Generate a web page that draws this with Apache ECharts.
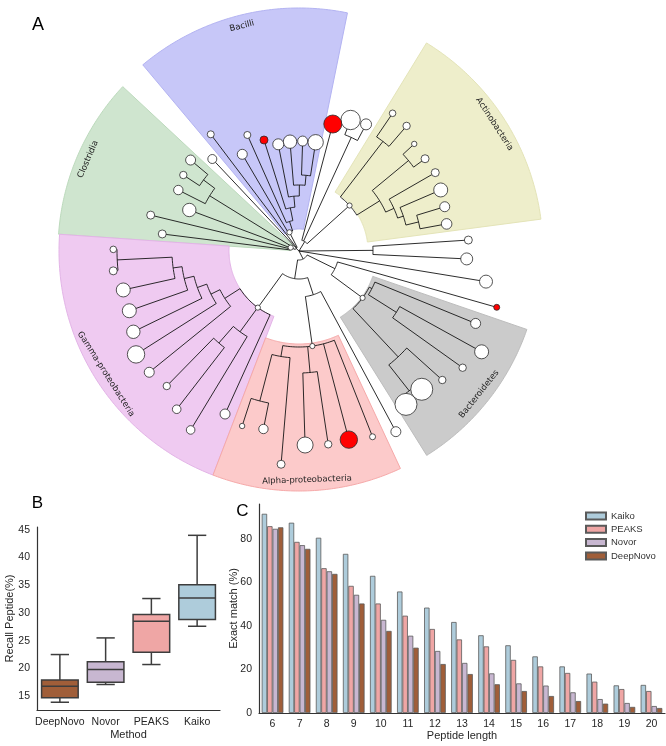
<!DOCTYPE html>
<html><head><meta charset="utf-8">
<script src="https://cdn.jsdelivr.net/npm/echarts@6/dist/echarts.min.js"></script>
<style>html,body{margin:0;padding:0;background:#fff}#c{width:666px;height:746px}</style>
</head><body><div id="c"></div>
<script>
// ================= Panel A : phylogenetic tree =================
const cladeNames  = ['Bacilli', 'Actinobacteria', 'Clostridia', 'Gamma-proteobacteria', 'Alpha-proteobacteria', 'Bacteroidetes'];
const cladeStart  = [78.5, 7.5, 137, 176, 249, 302];
const cladeEnd    = [130, 58.5, 176, 249, 295, 341];
const cladeInner  = [22, 69, 8, 70, 93, 78];
const cladeOuter  = [243, 244, 241, 240, 240, 241];
const cladeFill   = ['#c7c7f8', '#eeeecb', '#cfe5cf', '#efcaf1', '#fccaca', '#cbcbcb'];
const cladeStroke = ['#b3b3f2', '#e4e4b8', '#bcdabc', '#e3b4e7', '#f6a9a9', '#bdbdbd'];

// internal nodes: [id, parent, radius, fixed angle or null]
const treeNodes = [
  ['root', '', 0, null],
  ['UL', 'root', 4, null],
  ['CLO', 'UL', 9, 157.6],
  ['C123', 'CLO', 105, null],
  ['C12', 'C123', 119, null],
  ['BAC', 'UL', 21, 117],
  ['B2', 'BAC', 31, null],
  ['B3', 'B2', 44, null],
  ['B4', 'B3', 55, null],
  ['B5', 'B4', 66, null],
  ['B6', 'B5', 76, null],
  ['LOW', 'root', 9, null],
  ['GP', 'LOW', 28, null],
  ['GAM', 'GP', 70, 234],
  ['U7', 'GAM', 88, null],
  ['U6', 'U7', 98, null],
  ['U5', 'U6', 108, null],
  ['U4', 'U5', 118, null],
  ['U3', 'U4', 127, null],
  ['G12', 'U3', 182, null],
  ['G6', 'GAM', 100, null],
  ['G89', 'G6', 122, null],
  ['AZ', 'GP', 46, null],
  ['ALP', 'AZ', 96, 278],
  ['AL1', 'ALP', 107, null],
  ['A12', 'AL1', 155, null],
  ['A45', 'ALP', 122, null],
  ['XB', 'LOW', 40, null],
  ['BACT', 'XB', 79, 323.6],
  ['BT1', 'BACT', 82, null],
  ['BT23', 'BT1', 115, null],
  ['BT456', 'BACT', 145, null],
  ['BT56', 'BT456', 178, null],
  ['UV', 'root', 74, null],
  ['UR', 'root', 11, null],
  ['ACT', 'UR', 68, 402],
  ['A1', 'ACT', 138, null],
  ['A2', 'ACT', 95, null],
  ['AOP', 'A2', 142, null],
  ['A3', 'A2', 104, null],
  ['A4', 'A3', 110, null],
  ['AST', 'A4', 123, null],
  ['KL', 'UR', 125, null]
];
// markers drawn on clade roots
const markedNodes = ['BAC', 'CLO', 'ACT', 'GAM', 'ALP', 'BACT'];

// leaves: [parent, angle, radius, circle size, red]
const treeLeaves = [
  ['B6', 81.3, 110, 7.7, 0], ['B6', 88.1, 110, 5, 0], ['B5', 94.7, 109.7, 6.7, 0],
  ['B4', 101, 108.7, 5.5, 0], ['B3', 107.5, 116.4, 4, 1], ['B2', 114, 127, 3.5, 0],
  ['BAC', 120.4, 112.1, 5, 0], ['UL', 127.1, 146.3, 3.5, 0], ['UL', 133.3, 126.4, 4.5, 0],
  ['C12', 140, 141.5, 5, 0], ['C12', 146.7, 138.4, 3.7, 0], ['C123', 153.2, 135.2, 4.7, 0],
  ['CLO', 159.5, 117.1, 6.7, 0], ['CLO', 166.4, 152.6, 4, 0], ['CLO', 172.9, 137.8, 4, 0],
  ['G12', 179.5, 185.7, 3.3, 0], ['G12', 186.1, 186.8, 4, 0], ['U3', 192.5, 180, 7, 0],
  ['U4', 199.4, 179.9, 7, 0], ['U5', 206, 184.3, 6.7, 0], ['U6', 212.4, 193, 8.7, 0],
  ['U7', 219, 192.7, 5, 0], ['G89', 225.6, 189, 3.7, 0], ['G89', 232.3, 200, 4.3, 0],
  ['G6', 238.8, 209.2, 4.3, 0], ['GAM', 245.6, 179, 5, 0],
  ['A12', 252, 184, 2.7, 0], ['A12', 258.7, 181.5, 4.7, 0], ['AL1', 265.2, 214, 4, 0],
  ['A45', 271.8, 194.1, 8, 0], ['A45', 278.6, 195.5, 3.7, 0], ['ALP', 284.8, 195.1, 8.7, 1],
  ['ALP', 291.6, 199.8, 3, 0], ['AZ', 298.2, 205, 5, 0],
  ['BT56', 304.9, 187, 11, 0], ['BT56', 311.6, 184.9, 11, 0], ['BT456', 318, 192.8, 3.7, 0],
  ['BT23', 324.5, 201, 3.7, 0], ['BT23', 331.1, 208.6, 7, 0], ['BT1', 337.7, 190.9, 5, 0],
  ['XB', 344.1, 205.6, 3, 1], ['root', 350.7, 189.5, 6.5, 0], ['UV', 357.3, 167.9, 6, 0],
  ['UV', 363.7, 169.7, 4, 0],
  ['AST', 370.4, 150.1, 5.3, 0], ['AST', 376.9, 152.3, 5, 0], ['A4', 383.3, 154.3, 7, 0],
  ['A3', 389.9, 157.2, 4, 0], ['AOP', 396.2, 156.2, 4, 0], ['AOP', 402.9, 157.3, 2.7, 0],
  ['A1', 409.3, 165, 3.7, 0], ['A1', 415.8, 166.5, 3.3, 0],
  ['KL', 422.1, 143.3, 5.5, 0], ['KL', 428.5, 140.8, 9.7, 0], ['UR', 435.1, 131.4, 9, 1]
];

// ================= Panel B : box plot =================
const methodsB   = ['DeepNovo', 'Novor', 'PEAKS', 'Kaiko'];
const boxLow     = [13.9, 17.1, 20.7, 27.6];
const boxQ1      = [14.7, 17.5, 22.9, 28.8];
const boxMedian  = [16.8, 19.8, 28.5, 32.7];
const boxQ3      = [17.9, 21.2, 29.7, 35.1];
const boxHigh    = [22.5, 25.5, 32.6, 44.0];
const methodColors = ['#a05e39', '#c8b7d1', '#efa6a5', '#aeccdb'];

// ================= Panel C : bars =================
const peptideLengths = ['6','7','8','9','10','11','12','13','14','15','16','17','18','19','20'];
const kaiko    = [91.5, 87.4, 80.5, 73.1, 63.0, 55.8, 48.4, 41.8, 35.7, 31.1, 26.0, 21.4, 18.1, 12.7, 12.9];
const peaks    = [85.8, 78.6, 66.5, 58.4, 50.3, 44.7, 38.6, 33.8, 30.6, 24.4, 21.4, 18.4, 14.4, 11.0, 10.1];
const novor    = [84.6, 77.1, 65.1, 54.3, 42.8, 35.5, 28.5, 23.0, 18.2, 13.6, 12.6, 9.5, 6.4, 4.6, 3.2];
const deepnovo = [85.3, 75.4, 63.9, 50.3, 37.7, 30.0, 22.5, 17.9, 13.2, 10.1, 7.8, 5.5, 4.3, 2.8, 2.3];
const barSeriesNames = ['Kaiko', 'PEAKS', 'Novor', 'DeepNovo'];
const barColors = ['#aeccdb', '#efa6a5', '#c8b7d1', '#a05e39'];

// ---------- build tree geometry (data values only) ----------
const nodeMap = {};
treeNodes.forEach(([id, parent, r, ang]) => { nodeMap[id] = { id, parent, r, ang, children: [] }; });
treeNodes.forEach(([id, parent]) => { if (parent) nodeMap[parent].children.push(nodeMap[id]); });
const leafObjs = treeLeaves.map(([parent, ang, r, size, red]) => {
  const o = { parent, r, ang, size, red, children: [] };
  nodeMap[parent].children.push(o);
  return o;
});
function layout(n) {
  const as = n.children.map(layout);
  if (n.ang == null) n.ang = (Math.min(...as) + Math.max(...as)) / 2;
  return n.ang;
}
layout(nodeMap.root);
const edgeData = [];
Object.values(nodeMap).concat(leafObjs).forEach(n => {
  if (n.parent) edgeData.push([nodeMap[n.parent].r, n.r, n.ang, n.ang]);
  if (n.children.length > 1 && n.r > 0) {
    const as = n.children.map(c => c.ang).concat([n.ang]);
    edgeData.push([n.r, n.r, Math.min(...as), Math.max(...as)]);
  }
});
const circleData = markedNodes.map(id => [nodeMap[id].r, nodeMap[id].ang, 2.6, 0])
  .concat(leafObjs.map(l => [l.r, l.ang, l.size, l.red]));
const sectorData = cladeNames.map((n, i) => [cladeInner[i], cladeOuter[i], cladeStart[i], cladeEnd[i], i]);
const labelData = cladeNames.map((n, i) => [cladeOuter[i] - 11, (cladeStart[i] + cladeEnd[i]) / 2, i]);

function renderSector(params, api) {
  const r0 = api.value(0), r1 = api.value(1), a0 = api.value(2), a1 = api.value(3), idx = api.value(4);
  const pts = [], n = 80;
  for (let k = 0; k <= n; k++) pts.push(api.coord([r1, a0 + (a1 - a0) * k / n]));
  for (let k = n; k >= 0; k--) pts.push(api.coord([r0, a0 + (a1 - a0) * k / n]));
  return { type: 'polygon', shape: { points: pts }, style: { fill: cladeFill[idx], stroke: cladeStroke[idx], lineWidth: 1 } };
}
function renderEdge(params, api) {
  const r0 = api.value(0), r1 = api.value(1), a0 = api.value(2), a1 = api.value(3);
  const pts = [];
  if (a0 === a1) { pts.push(api.coord([r0, a0]), api.coord([r1, a1])); }
  else {
    const n = Math.max(2, Math.ceil((a1 - a0) / 1.5));
    for (let k = 0; k <= n; k++) pts.push(api.coord([r0, a0 + (a1 - a0) * k / n]));
  }
  return { type: 'polyline', shape: { points: pts }, style: { stroke: '#151515', lineWidth: 0.9, fill: null } };
}
function renderCircle(params, api) {
  const p = api.coord([api.value(0), api.value(1)]);
  return { type: 'circle', shape: { cx: p[0], cy: p[1], r: api.value(2) },
    style: { fill: api.value(3) ? '#ff0000' : '#ffffff', stroke: '#2a2a2a', lineWidth: 0.8 } };
}
function renderLabel(params, api) {
  const a = api.value(1), idx = api.value(2);
  const p = api.coord([api.value(0), a]);
  const aa = ((a % 360) + 360) % 360;
  const rot = aa < 180 ? aa - 90 : aa + 90;
  return { type: 'text', x: p[0], y: p[1], rotation: rot * Math.PI / 180,
    style: { text: cladeNames[idx], align: 'center', verticalAlign: 'middle', textAlign: 'center', textVerticalAlign: 'middle',
      font: '8.5px "DejaVu Sans"', fill: '#222' } };
}
function renderBox(params, api) {
  const i = api.value(0);
  const pLo = api.coord([i, api.value(1)]), pQ1 = api.coord([i, api.value(2)]), pMed = api.coord([i, api.value(3)]);
  const pQ3 = api.coord([i, api.value(4)]), pHi = api.coord([i, api.value(5)]);
  const bw = api.size([1, 0])[0] * 0.8, cx = pLo[0];
  const ls = { stroke: '#3d3d3d', lineWidth: 1.5 };
  return { type: 'group', children: [
    { type: 'line', shape: { x1: cx, y1: pLo[1], x2: cx, y2: pQ1[1] }, style: ls },
    { type: 'line', shape: { x1: cx, y1: pQ3[1], x2: cx, y2: pHi[1] }, style: ls },
    { type: 'line', shape: { x1: cx - bw / 4, y1: pLo[1], x2: cx + bw / 4, y2: pLo[1] }, style: ls },
    { type: 'line', shape: { x1: cx - bw / 4, y1: pHi[1], x2: cx + bw / 4, y2: pHi[1] }, style: ls },
    { type: 'rect', shape: { x: cx - bw / 2, y: pQ3[1], width: bw, height: pQ1[1] - pQ3[1] },
      style: { fill: methodColors[params.dataIndex], stroke: '#3d3d3d', lineWidth: 1.5 } },
    { type: 'line', shape: { x1: cx - bw / 2, y1: pMed[1], x2: cx + bw / 2, y2: pMed[1] }, style: ls }
  ] };
}

const FONT = '"Liberation Sans", Arial, sans-serif';
const axisText = { color: '#262626', fontSize: 10.5, fontFamily: FONT };
const nameText = { color: '#262626', fontSize: 11, fontFamily: FONT };
const spine = { show: true, lineStyle: { color: '#333', width: 1.2 } };

const chart = echarts.init(document.getElementById('c'), null, { renderer: 'canvas' });
chart.setOption({
  animation: false,
  backgroundColor: '#fff',
  polar: { center: [299, 251], radius: 250 },
  angleAxis: { type: 'value', min: 0, max: 360, startAngle: 0, clockwise: false, show: false },
  radiusAxis: { type: 'value', min: 0, max: 250, show: false },
  grid: [
    { left: 37, top: 527, width: 183, height: 183 },
    { left: 259, top: 504, width: 406, height: 209 }
  ],
  xAxis: [
    { type: 'category', gridIndex: 0, data: methodsB, axisLine: spine, axisTick: { show: false },
      axisLabel: Object.assign({ margin: 7, interval: 0 }, axisText),
      name: 'Method', nameLocation: 'middle', nameGap: 19, nameTextStyle: nameText },
    { type: 'category', gridIndex: 1, data: peptideLengths, axisLine: spine, axisTick: { show: false },
      axisLabel: Object.assign({ margin: 6, interval: 0 }, axisText),
      name: 'Peptide length', nameLocation: 'middle', nameGap: 17, nameTextStyle: nameText }
  ],
  yAxis: [
    { type: 'value', gridIndex: 0, min: 12.5, max: 45.5, splitNumber: 6, axisLine: spine, axisTick: { show: false },
      splitLine: { show: false }, axisLabel: Object.assign({ margin: 7, showMinLabel: false, showMaxLabel: false }, axisText),
      name: 'Recall Peptide(%)', nameLocation: 'middle', nameGap: 21.5, nameMoveOverlap: false, nameTextStyle: nameText },
    { type: 'value', gridIndex: 1, min: 0, max: 96, splitNumber: 5, axisLine: spine, axisTick: { show: false },
      splitLine: { show: false }, axisLabel: Object.assign({ margin: 7, showMaxLabel: false }, axisText),
      name: 'Exact match (%)', nameLocation: 'middle', nameGap: 20, nameMoveOverlap: false, nameTextStyle: nameText }
  ],
  legend: {
    data: barSeriesNames, orient: 'vertical', left: 585, top: 511, padding: 0, itemWidth: 20, itemHeight: 7, itemGap: 3.3,
    icon: 'rect', textStyle: { color: '#333', fontSize: 9.5, fontFamily: FONT }
  },
  graphic: [
    { type: 'text', x: 38, y: 25, style: { text: 'A', font: '18px "Liberation Sans"', fill: '#000', align: 'center', verticalAlign: 'middle', textAlign: 'center', textVerticalAlign: 'middle' } },
    { type: 'text', x: 37.5, y: 503, style: { text: 'B', font: '17px "Liberation Sans"', fill: '#000', align: 'center', verticalAlign: 'middle', textAlign: 'center', textVerticalAlign: 'middle' } },
    { type: 'text', x: 242.5, y: 511, style: { text: 'C', font: '17px "Liberation Sans"', fill: '#000', align: 'center', verticalAlign: 'middle', textAlign: 'center', textVerticalAlign: 'middle' } }
  ],
  series: [
    { type: 'custom', coordinateSystem: 'polar', renderItem: renderSector, data: sectorData, z: 1, silent: true },
    { type: 'custom', coordinateSystem: 'polar', renderItem: renderLabel, data: labelData, z: 2, silent: true },
    { type: 'custom', coordinateSystem: 'polar', renderItem: renderEdge, data: edgeData, z: 3, silent: true },
    { type: 'custom', coordinateSystem: 'polar', renderItem: renderCircle, data: circleData, z: 4, silent: true },
    { type: 'custom', xAxisIndex: 0, yAxisIndex: 0, renderItem: renderBox, encode: { x: 0, y: [1, 2, 3, 4, 5] },
      data: methodsB.map((m, i) => [i, boxLow[i], boxQ1[i], boxMedian[i], boxQ3[i], boxHigh[i]]) },
  ].concat([kaiko, peaks, novor, deepnovo].map((vals, k) => ({
    type: 'bar', name: barSeriesNames[k], xAxisIndex: 1, yAxisIndex: 1, data: vals,
    barGap: '0%', barCategoryGap: '20%',
    itemStyle: { color: barColors[k], borderColor: '#5a5a5a', borderWidth: 0.8 }
  })))
});
</script></body></html>
